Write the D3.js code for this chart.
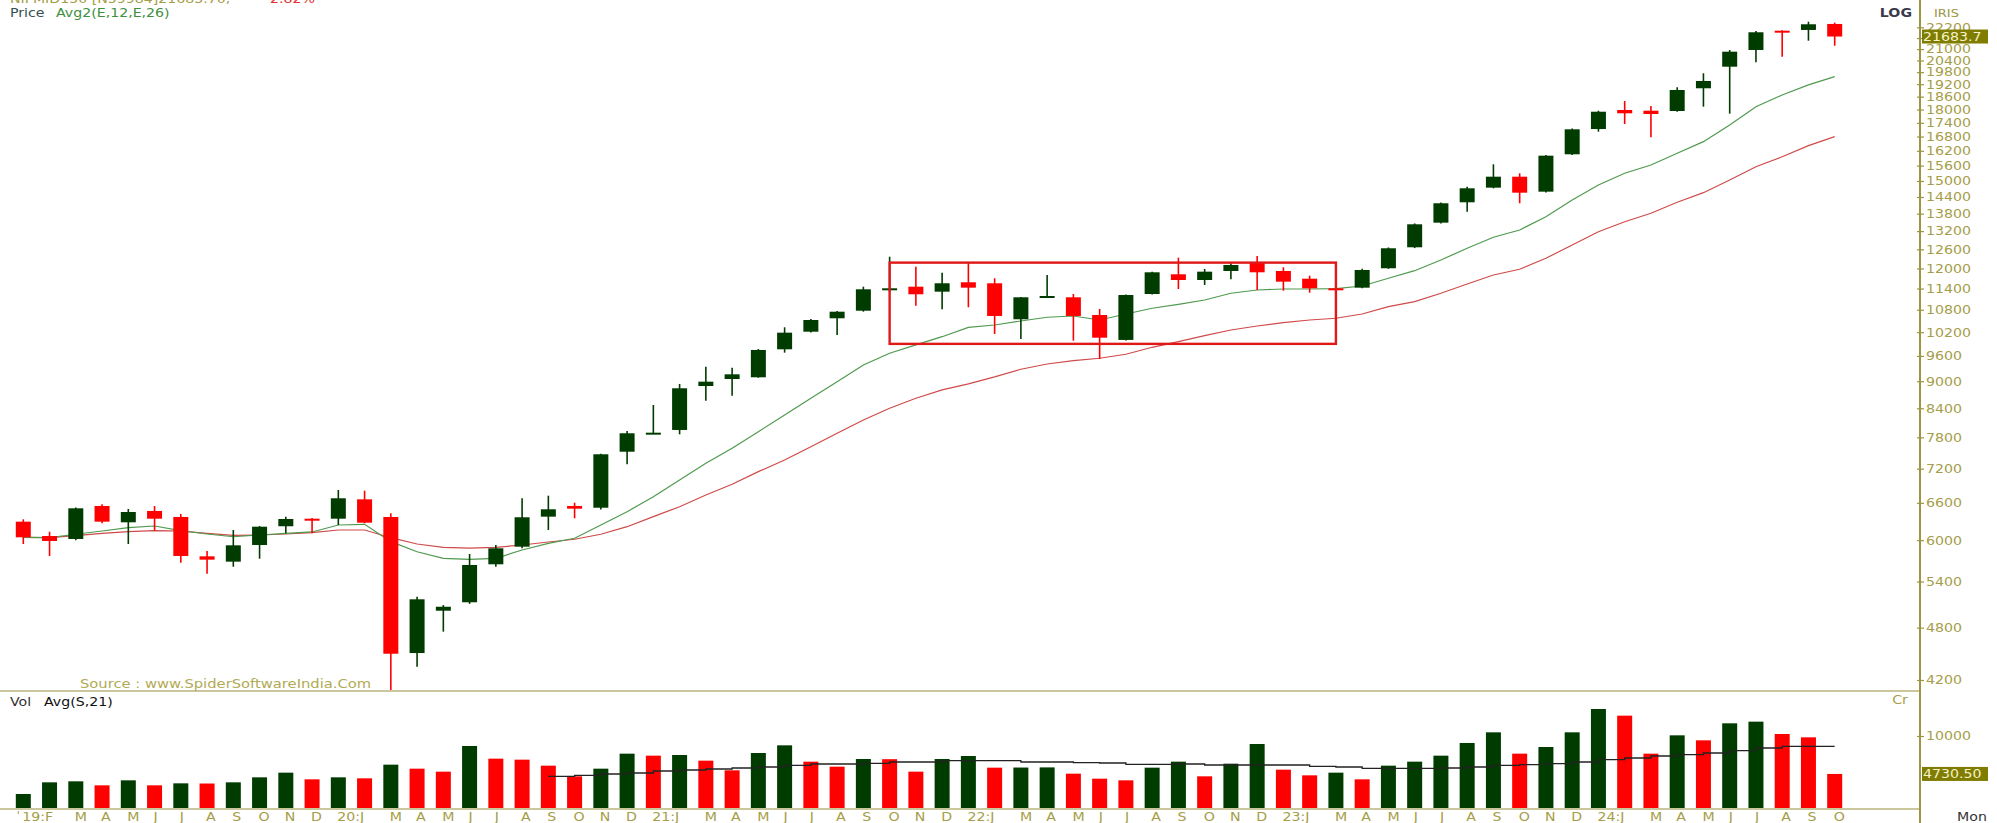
<!DOCTYPE html>
<html>
<head>
<meta charset="utf-8">
<script src="https://cdnjs.cloudflare.com/ajax/libs/d3/7.8.5/d3.min.js"></script>
<style>
  body { margin: 0; background: #fff; }
  svg { display: block; }
  text { font-family: "DejaVu Sans", Verdana, sans-serif; }
</style>
</head>
<body>
<svg id="chart"></svg>
<script>
// monthly candles, Jan 2019 .. Oct 2024
const months = [
  "2019-01","2019-02","2019-03","2019-04","2019-05","2019-06","2019-07","2019-08","2019-09","2019-10","2019-11","2019-12",
  "2020-01","2020-02","2020-03","2020-04","2020-05","2020-06","2020-07","2020-08","2020-09","2020-10","2020-11","2020-12",
  "2021-01","2021-02","2021-03","2021-04","2021-05","2021-06","2021-07","2021-08","2021-09","2021-10","2021-11","2021-12",
  "2022-01","2022-02","2022-03","2022-04","2022-05","2022-06","2022-07","2022-08","2022-09","2022-10","2022-11","2022-12",
  "2023-01","2023-02","2023-03","2023-04","2023-05","2023-06","2023-07","2023-08","2023-09","2023-10","2023-11","2023-12",
  "2024-01","2024-02","2024-03","2024-04","2024-05","2024-06","2024-07","2024-08","2024-09","2024-10"
];
const xLabels = [
  "19:F","","M","A","M","J","J","A","S","O","N","D",
  "20:J","","M","A","M","J","J","A","S","O","N","D",
  "21:J","","M","A","M","J","J","A","S","O","N","D",
  "22:J","","M","A","M","J","J","A","S","O","N","D",
  "23:J","","M","A","M","J","J","A","S","O","N","D",
  "24:J","","M","A","M","J","J","A","S","O"
];

const opens  = [6290,6064,6018,6547,6280,6464,6366,5758,5680,5927,6217,6338,
                6338,6659,6366,4499,5012,5121,5642,5901,6371,6547,6518,7519,
                7881,7948,8891,9051,9091,9764,10212,10568,10774,11379,11455,11310,
                11584,11555,10541,11149,11149,10657,10000,11243,11823,11652,11923,12178,
                11923,11691,11408,11426,12006,12666,13487,14207,14747,15165,14597,16057,
                17125,17978,17945,17932,19002,20078,20952,22009,22050,22390];
const highs  = [6328,6131,6520,6575,6497,6547,6415,5837,6158,6222,6371,6350,
                6820,6807,6426,5195,5085,5792,5927,6677,6721,6602,7480,7928,
                8471,8938,9341,9316,9770,10328,10550,10765,11455,12365,12054,11871,
                12178,11703,11160,11802,11243,10821,11230,11900,12334,11984,12160,12387,
                12035,11780,11440,11990,12660,13460,14200,14783,15653,15297,16030,17150,
                17945,18395,18162,19050,19744,20952,21993,22030,22521,22466];
const lows   = [5942,5763,6000,6264,5942,6147,5665,5508,5607,5723,6106,6106,
                6237,6264,4090,4345,4751,5100,5607,5877,6158,6344,6490,7282,
                7870,7860,8564,8674,9080,9681,10190,10127,10747,11300,10912,10813,
                10869,10153,10024,11130,9981,9526,9985,11230,11388,11505,11673,11358,
                11338,11281,11330,11410,11990,12640,13460,13871,14720,14171,14570,16030,
                17010,17347,16768,17900,18130,17811,20305,20597,21454,21181];
const closes = [6044,5988,6508,6290,6447,6338,5763,5709,5922,6210,6333,6322,
                6677,6274,4491,5160,5063,5632,5877,6361,6492,6502,7470,7881,
                7893,8840,8990,9160,9747,10187,10522,10747,11379,11408,11235,11555,
                11426,10630,11149,11186,10630,10057,11214,11883,11652,11902,12107,11883,
                11602,11408,11358,11953,12634,13431,14171,14723,15165,14559,16000,17114,
                17899,17827,17795,18919,19359,20861,21920,21937,22372,21683.7];

// Avg2(E,12,E,26)
const ema12 = [6044,6038,6091,6142,6194,6221,6147,6095,6053,6080,6106,6127,
               6237,6248,5977,5826,5729,5714,5729,5852,5952,6029,6237,6452,
               6704,6996,7300,7585,7913,8257,8617,8990,9381,9665,9873,10083,
               10327,10388,10495,10595,10630,10522,10684,10841,10952,11073,11264,11358,
               11388,11388,11396,11475,11703,11932,12262,12634,12993,13238,13694,14290,
               14848,15297,15625,16099,16583,17305,18131,18680,19165,19573];
const ema26 = [6044,6038,6069,6106,6131,6147,6142,6106,6075,6080,6095,6116,
               6158,6158,6038,5942,5892,5881,5892,5927,5972,6014,6091,6210,
               6371,6535,6733,6919,7146,7362,7616,7881,8153,8400,8617,8802,
               8938,9099,9279,9405,9484,9543,9641,9814,9955,10109,10257,10362,
               10450,10522,10568,10684,10885,11025,11264,11534,11802,11975,12316,12741,
               13180,13520,13814,14207,14559,15038,15557,15958,16414,16796];

// volume (Cr) and its 21 month simple average
const vols = [1945,3565,3704,3148,3843,3148,3426,3400,3565,4260,4908,3982,
              4260,4121,6019,5463,5047,8612,6852,6714,5880,4399,5463,7547,
              7269,7361,6575,5232,7640,8704,6436,5741,6806,6780,5047,6806,
              7223,5602,5620,5640,4769,4074,3843,5602,6436,4399,6158,8890,
              5324,4537,4908,3982,5880,6436,7269,9029,10510,7547,8473,10510,
              13751,12825,7547,10093,9399,11760,11992,10279,9816,4730.5];
const volAvg = [null,null,null,null,null,null,null,null,null,null,null,null,
                null,null,null,null,null,null,null,null,4399,4537,4723,4862,
                5139,5278,5417,5556,5695,5926,6112,6112,6204,6389,6389,6575,
                6575,6575,6389,6389,6297,6250,6065,6065,6112,5973,5973,5973,
                5973,5788,5695,5510,5510,5510,5556,5695,5926,6019,6158,6389,
                6714,6945,7223,7408,7640,7964,8334,8566,8566,8566];

const priceTicks = [4200,4800,5400,6000,6600,7200,7800,8400,9000,9600,10200,10800,11400,12000,12600,
                    13200,13800,14400,15000,15600,16200,16800,17400,18000,18600,19200,19800,20400,21000,21600,22200];
const hiddenTicks = [21600]; // sits under the last-price box
const volTicks = [10000];

// consolidation box
const boxMonths = ["2021-10", "2023-03"];
const boxPrices = [9900, 12180];

const width = 1997, height = 823;
const axisX = 1920;
const priceBottom = 690, volBottom = 808;
const SX = 1.18; // the screenshot text is stretched sideways
const green = "#003c00", red = "#ff0000", olive = "#a59d48";

const svg = d3.select("#chart").attr("width", width).attr("height", height);

const x = d3.scalePoint().domain(months).range([23.3, 1834.7]);
const yP = d3.scaleLog().domain([4200, 22200]).range([680, 27.3]);
const yV = d3.scaleLinear().domain([0, 10000]).range([volBottom, 736]);

function label(g, px, py, s, size, fill, anchor, weight) {
  return g.append("text")
    .attr("transform", `translate(${px},${py}) scale(${SX},1)`)
    .attr("font-size", size)
    .attr("fill", fill)
    .attr("text-anchor", anchor || "start")
    .attr("font-weight", weight || "normal")
    .text(s);
}

svg.append("defs").append("clipPath").attr("id", "pclip")
  .append("rect").attr("x", 0).attr("y", 0).attr("width", axisX).attr("height", priceBottom);

const candles = months.map((m, i) => ({ m, o: opens[i], h: highs[i], l: lows[i], c: closes[i] }));

// price panel
const pg = svg.append("g").attr("clip-path", "url(#pclip)");

const line = d3.line().x((d, i) => x(months[i])).y(d => yP(d));
pg.append("path").attr("d", line(ema26)).attr("fill", "none").attr("stroke", "#cf4a4a").attr("stroke-width", 1.2);
pg.append("path").attr("d", line(ema12)).attr("fill", "none").attr("stroke", "#4f9a4f").attr("stroke-width", 1.2);

const bodyW = 15;
pg.selectAll(".wick").data(candles).enter().append("line")
  .attr("x1", d => x(d.m)).attr("x2", d => x(d.m))
  .attr("y1", d => yP(d.h)).attr("y2", d => yP(d.l))
  .attr("stroke", d => d.c >= d.o ? green : red).attr("stroke-width", 1.6);
pg.selectAll(".body").data(candles).enter().append("rect")
  .attr("x", d => x(d.m) - bodyW / 2)
  .attr("width", bodyW)
  .attr("y", d => yP(Math.max(d.o, d.c)))
  .attr("height", d => Math.max(2, Math.abs(yP(d.o) - yP(d.c))))
  .attr("fill", d => d.c >= d.o ? green : red);

pg.append("rect")
  .attr("x", x(boxMonths[0])).attr("width", x(boxMonths[1]) - x(boxMonths[0]))
  .attr("y", yP(boxPrices[1])).attr("height", yP(boxPrices[0]) - yP(boxPrices[1]))
  .attr("fill", "none").attr("stroke", "#e01818").attr("stroke-width", 2.4);

// volume panel
const volData = months.map((m, i) => ({ m, v: vols[i], up: i === 0 || vols[i] >= vols[i - 1] }));
svg.selectAll(".vbar").data(volData).enter().append("rect")
  .attr("x", d => x(d.m) - bodyW / 2).attr("width", bodyW)
  .attr("y", d => yV(d.v)).attr("height", d => volBottom - yV(d.v))
  .attr("fill", d => d.up ? green : red);
const vline = d3.line().defined(d => d != null).x((d, i) => x(months[i])).y(d => yV(d)).curve(d3.curveStepAfter);
svg.append("path").attr("d", vline(volAvg)).attr("fill", "none").attr("stroke", "#222").attr("stroke-width", 1.3);

// frame lines
svg.append("line").attr("x1", 0).attr("x2", axisX).attr("y1", 691).attr("y2", 691).attr("stroke", "#c9c79b").attr("stroke-width", 2);
svg.append("line").attr("x1", 0).attr("x2", axisX).attr("y1", volBottom + 1).attr("y2", volBottom + 1).attr("stroke", "#c9c79b").attr("stroke-width", 2);
svg.append("line").attr("x1", axisX).attr("x2", axisX).attr("y1", 0).attr("y2", height).attr("stroke", "#9c9640").attr("stroke-width", 2);

// right axes
const pAxis = svg.append("g").attr("transform", `translate(${axisX},0)`)
  .call(d3.axisRight(yP).tickValues(priceTicks)
    .tickFormat(d => hiddenTicks.includes(d) ? "" : d3.format("d")(d)).tickSize(4));
const vAxis = svg.append("g").attr("transform", `translate(${axisX},0)`)
  .call(d3.axisRight(yV).tickValues(volTicks).tickFormat(d3.format("d")).tickSize(4));
[pAxis, vAxis].forEach(a => {
  a.select(".domain").remove();
  a.selectAll(".tick line").attr("x1", -3).attr("stroke", "#9c9640").attr("stroke-width", 1.2);
  a.selectAll(".tick text").attr("x", 6 / SX).attr("transform", `scale(${SX},1)`)
    .attr("fill", olive).attr("font-size", 12).attr("font-family", "DejaVu Sans, Verdana, sans-serif");
});

// last value boxes
function valueBox(yy, s) {
  svg.append("rect").attr("x", axisX + 2).attr("y", yy - 7).attr("width", 66).attr("height", 14).attr("fill", "#7f7c00");
  label(svg, axisX + 3, yy + 4.5, s, 12, "#f4f2c8");
}
valueBox(yP(closes[closes.length - 1]), "21683.7");
valueBox(yV(vols[vols.length - 1]), "4730.50");

// x labels
const xg = svg.append("g");
months.forEach((m, i) => {
  if (!xLabels[i]) return;
  label(xg, x(m) - 1, 821, xLabels[i], 12, olive);
});
xg.append("line").attr("x1", x(months[0]) - 5).attr("x2", x(months[0]) - 5).attr("y1", 811).attr("y2", 814).attr("stroke", olive);

// texts
label(svg, 10, 3, "NIFMID150 [N59984]21683.70,", 12, "#a59d48");
label(svg, 265, 3, "-2.82%", 12, "#e03030");
label(svg, 10, 17, "Price", 12, "#34504f");
label(svg, 56, 17, "Avg2(E,12,E,26)", 12, "#3f8f3f");
label(svg, 10, 706, "Vol", 12, "#333");
label(svg, 44, 706, "Avg(S,21)", 12, "#111");
label(svg, 80, 688, "Source : www.SpiderSoftwareIndia.Com", 12.5, "#b2aa55");
label(svg, 1912, 17, "LOG", 12, "#3a3a4a", "end", "bold");
label(svg, 1934, 17, "IRIS", 11, "#9c9640");
label(svg, 1900, 704, "Cr", 12, olive, "middle");
label(svg, 1972, 821, "Mon", 12, "#333", "middle");
</script>
</body>
</html>
